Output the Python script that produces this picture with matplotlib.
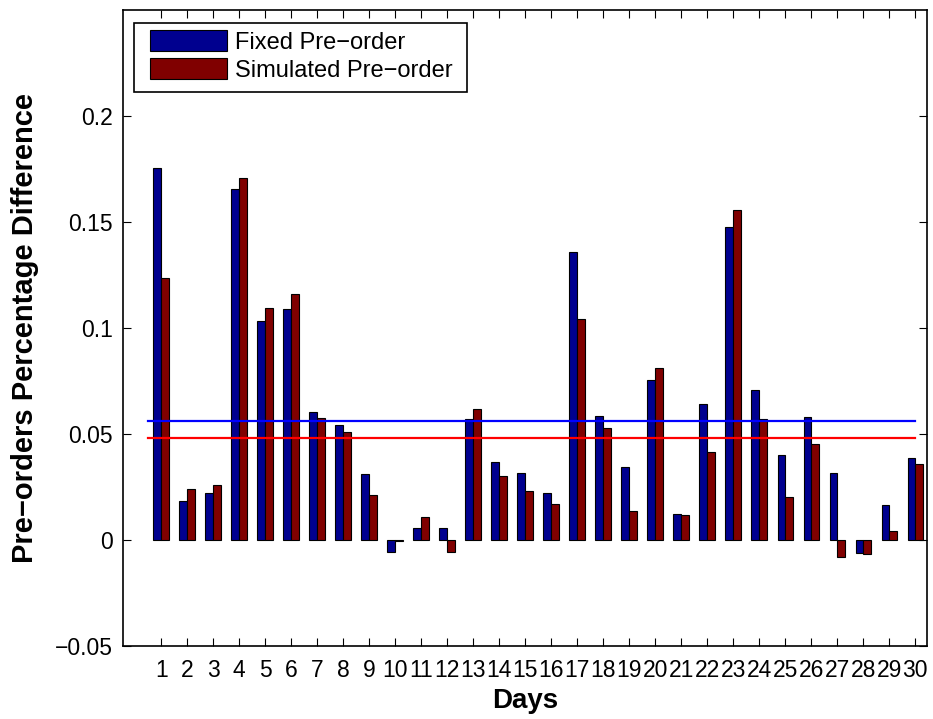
import matplotlib.pyplot as plt
from matplotlib.patches import Rectangle
import numpy as np

plt.rcParams['font.family'] = ['Liberation Sans', 'DejaVu Sans']

# 每天的预订百分比差异
days = list(range(1, 31))
fixed_preorder = [0.1755, 0.0183, 0.0220, 0.1656, 0.1033, 0.1088, 0.0602, 0.0542, 0.0310, -0.0055,
                  0.0058, 0.0055, 0.0571, 0.0368, 0.0316, 0.0223, 0.1358, 0.0586, 0.0346, 0.0755,
                  0.0121, 0.0640, 0.1475, 0.0706, 0.0400, 0.0579, 0.0314, -0.0063, 0.0165, 0.0385]
simulated_preorder = [0.1236, 0.0242, 0.0259, 0.1709, 0.1093, 0.1162, 0.0574, 0.0508, 0.0212, -0.0005,
                      0.0107, -0.0057, 0.0620, 0.0300, 0.0230, 0.0168, 0.1042, 0.0527, 0.0137, 0.0813,
                      0.0116, 0.0417, 0.1555, 0.0571, 0.0204, 0.0451, -0.0082, -0.0068, 0.0042, 0.0357]
fixed_mean = 0.056
simulated_mean = 0.048

legend_labels = ['Fixed Pre\u2212order', 'Simulated Pre\u2212order']
yticks = [-0.05, 0, 0.05, 0.1, 0.15, 0.2]
ytick_labels = ['\u22120.05', '0', '0.05', '0.1', '0.15', '0.2']

fig = plt.figure(figsize=(9.33, 7.19), dpi=100)
ax = fig.add_axes([0.1318, 0.1015, 0.8618, 0.8845])

x = np.array(days)
w = 0.3
ax.bar(x - w / 2, fixed_preorder, width=w, color='#00008F', edgecolor='black', linewidth=0.8,
       label=legend_labels[0])
ax.bar(x + w / 2, simulated_preorder, width=w, color='#800000', edgecolor='black', linewidth=0.8,
       label=legend_labels[1])

# 平均值水平线
ax.plot([0.5, 30], [fixed_mean, fixed_mean], color='#0000FF', linewidth=1.6)
ax.plot([0.5, 30], [simulated_mean, simulated_mean], color='#FF0000', linewidth=1.6)

ax.set_xlim(-0.47, 30.45)
ax.set_ylim(-0.05, 0.25)
ax.set_xticks(days)
ax.set_xticklabels([str(d) for d in days], fontsize=16.5)
ax.set_yticks(yticks)
ax.set_yticklabels(ytick_labels, fontsize=16.5)
ax.tick_params(direction='in', top=True, right=True, length=6, width=0.8)
ax.tick_params(axis='x', pad=9)
ax.tick_params(axis='y', pad=7)

for s in ax.spines.values():
    s.set_linewidth(1.2)

ax.set_xlabel('Days', fontsize=20, fontweight='bold', labelpad=5)
ax.set_ylabel('Pre\u2212orders Percentage Difference', fontsize=21, fontweight='bold', labelpad=12)

# 图例：无边框，外框单独画
leg = ax.legend(loc='upper left', bbox_to_anchor=(0.0336, 0.968), fontsize=17, frameon=False,
                handlelength=3.25, handleheight=0.95, borderpad=0,
                labelspacing=0.2, handletextpad=0.35, borderaxespad=0)
ax.add_patch(Rectangle((0.0137, 0.8711), 0.4142, 0.1085, transform=ax.transAxes,
                       facecolor='white', edgecolor='black', linewidth=1.2, zorder=4))
leg.set_zorder(5)

plt.savefig('out.png', dpi=100)
